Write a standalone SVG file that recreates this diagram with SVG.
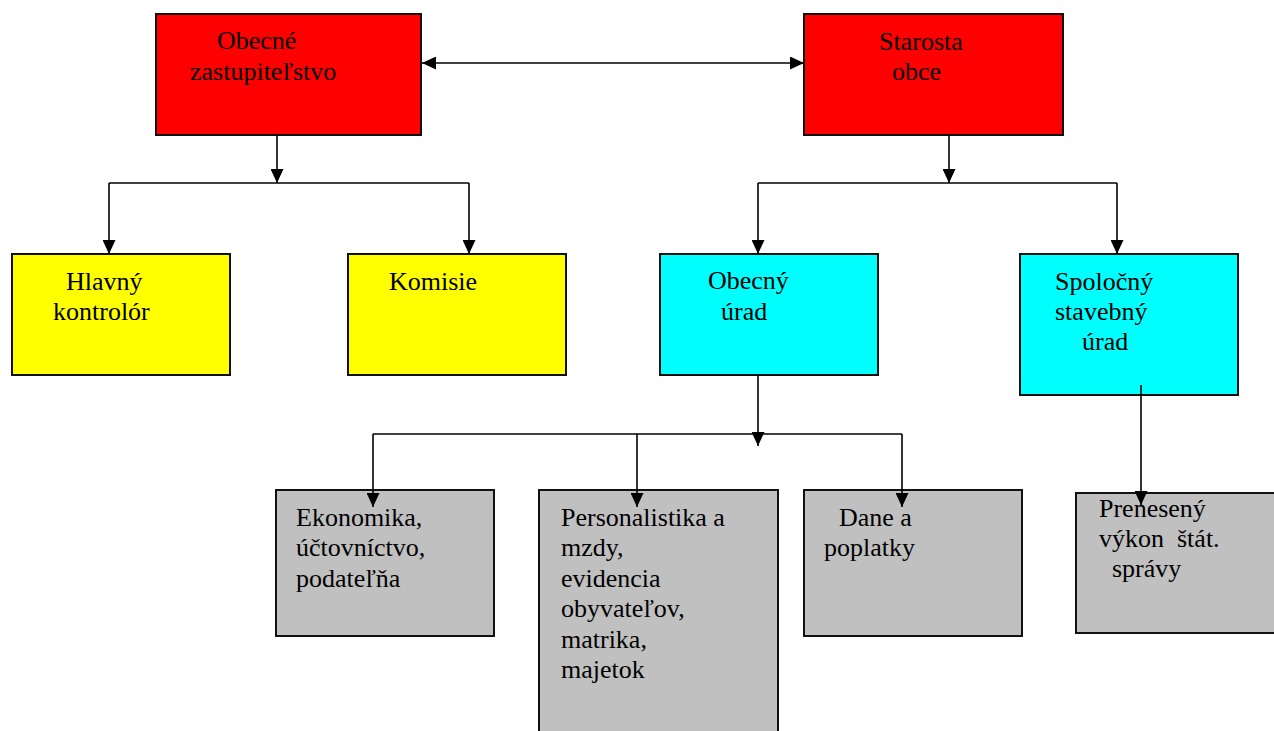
<svg xmlns="http://www.w3.org/2000/svg" width="1274" height="731" viewBox="0 0 1274 731">
<style>
.box{stroke:#111;stroke-width:2}
.red{fill:#ff0000}
.yel{fill:#ffff00}
.cyan{fill:#00ffff}
.grey{fill:#c0c0c0}
.t{font-size:26px;fill:#000}
.c{fill:none;stroke:#000;stroke-width:1.6}
</style>
<defs>
<marker id="ah" markerUnits="userSpaceOnUse" markerWidth="14" markerHeight="13" refX="14" refY="6.5" orient="auto-start-reverse">
<path d="M0,0 L14,6.5 L0,13 z" fill="#000"/>
</marker>
</defs>
<rect width="1274" height="731" fill="#fff"/>
<g class="t" font-family="'Liberation Serif', 'Times New Roman', Tinos, 'DejaVu Serif', serif">
<g id="n-zastupitelstvo">
<rect class="box red" x="156" y="14" width="265" height="121"/>
<text x="217" y="49">Obecné</text>
<text x="190" y="80">zastupiteľstvo</text>
</g>
<g id="n-starosta">
<rect class="box red" x="804" y="14" width="259" height="121"/>
<text x="879" y="50">Starosta</text>
<text x="892" y="80">obce</text>
</g>
<g id="n-kontrolor">
<rect class="box yel" x="12" y="254" width="218" height="121"/>
<text x="66" y="290">Hlavný</text>
<text x="53" y="320">kontrolór</text>
</g>
<g id="n-komisie">
<rect class="box yel" x="348" y="254" width="218" height="121"/>
<text x="389" y="290">Komisie</text>
</g>
<g id="n-obecny-urad">
<rect class="box cyan" x="660" y="254" width="218" height="121"/>
<text x="708" y="289">Obecný</text>
<text x="721" y="320">úrad</text>
</g>
<g id="n-stavebny-urad">
<rect class="box cyan" x="1020" y="254" width="218" height="141"/>
<text x="1055" y="290">Spoločný</text>
<text x="1055" y="320">stavebný</text>
<text x="1082" y="350">úrad</text>
</g>
<g id="n-ekonomika">
<rect class="box grey" x="276" y="490" width="218" height="146"/>
<text x="296" y="526">Ekonomika,</text>
<text x="296" y="556">účtovníctvo,</text>
<text x="296" y="587">podateľňa</text>
</g>
<g id="n-personalistika">
<rect class="box grey" x="539" y="490" width="239" height="260"/>
<text x="561" y="526">Personalistika a</text>
<text x="561" y="556">mzdy,</text>
<text x="561" y="587">evidencia</text>
<text x="561" y="617">obyvateľov,</text>
<text x="561" y="648">matrika,</text>
<text x="561" y="678">majetok</text>
</g>
<g id="n-dane">
<rect class="box grey" x="804" y="490" width="218" height="146"/>
<text x="839" y="526">Dane a</text>
<text x="824" y="556">poplatky</text>
</g>
<g id="n-preneseny">
<rect class="box grey" x="1076" y="493" width="220" height="140"/>
<text x="1099" y="517">Prenesený</text>
<text x="1099" y="547" xml:space="preserve">výkon  štát.</text>
<text x="1112" y="577">správy</text>
</g>
</g>
<g id="connectors">
<line class="c" x1="422" y1="63" x2="804" y2="63" marker-start="url(#ah)" marker-end="url(#ah)"/>
<line class="c" x1="277" y1="135" x2="277" y2="183" marker-end="url(#ah)"/>
<polyline class="c" points="109,183 469,183"/>
<line class="c" x1="109" y1="183" x2="109" y2="254" marker-end="url(#ah)"/>
<line class="c" x1="469" y1="183" x2="469" y2="254" marker-end="url(#ah)"/>
<line class="c" x1="949" y1="135" x2="949" y2="183" marker-end="url(#ah)"/>
<polyline class="c" points="758,183 1117,183"/>
<line class="c" x1="758" y1="183" x2="758" y2="254" marker-end="url(#ah)"/>
<line class="c" x1="1117" y1="183" x2="1117" y2="254" marker-end="url(#ah)"/>
<line class="c" x1="758" y1="375" x2="758" y2="446" marker-end="url(#ah)"/>
<polyline class="c" points="373,434 902,434"/>
<line class="c" x1="373" y1="434" x2="373" y2="507" marker-end="url(#ah)"/>
<line class="c" x1="637" y1="434" x2="637" y2="507" marker-end="url(#ah)"/>
<line class="c" x1="902" y1="434" x2="902" y2="507" marker-end="url(#ah)"/>
<line class="c" x1="1141" y1="385" x2="1141" y2="505" marker-end="url(#ah)"/>
</g>
</svg>
